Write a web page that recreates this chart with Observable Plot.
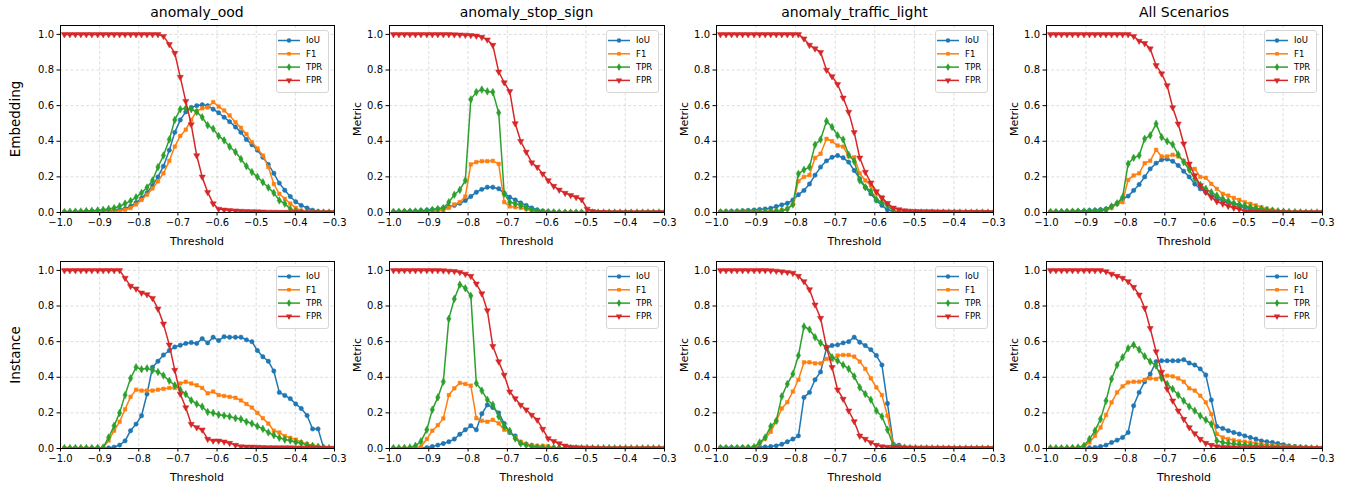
<!DOCTYPE html>
<html><head><meta charset="utf-8">
<script src="https://cdn.jsdelivr.net/npm/d3@7"></script>
<script src="https://cdn.jsdelivr.net/npm/@observablehq/plot@0.6"></script>
<style>
body{margin:0;background:#fff;font-family:"DejaVu Sans",sans-serif;}
#fig{position:relative;width:1351px;height:484px;overflow:hidden;background:#fff}
.t{position:absolute;white-space:nowrap;color:#000;line-height:1;}
.leg{position:absolute;background:rgba(255,255,255,0.85);border:1px solid #d6d6d6;border-radius:3px;box-sizing:border-box}
</style></head><body><div id="fig"></div>
<script>
const thresholds = [-0.990,-0.976,-0.962,-0.948,-0.934,-0.920,-0.905,-0.891,-0.877,-0.863,-0.849,-0.835,-0.821,-0.807,-0.793,-0.779,-0.765,-0.751,-0.737,-0.722,-0.708,-0.694,-0.680,-0.666,-0.652,-0.638,-0.624,-0.610,-0.596,-0.582,-0.568,-0.553,-0.539,-0.525,-0.511,-0.497,-0.483,-0.469,-0.455,-0.441,-0.427,-0.413,-0.399,-0.385,-0.370,-0.356,-0.342,-0.328,-0.314,-0.300];
const xTicks = [-1.0,-0.9,-0.8,-0.7,-0.6,-0.5,-0.4,-0.3];
const yTicks = [0.0,0.2,0.4,0.6,0.8,1.0];
const scenarios = ["anomaly_ood","anomaly_stop_sign","anomaly_traffic_light","All Scenarios"];
const modes = ["Embedding","Instance"];
const metrics = ["IoU","F1","TPR","FPR"];
const colors = ["#1f77b4","#ff7f0e","#2ca02c","#d62728"];

// Embedding row
const ood_emb_iou = [0.003,0.003,0.004,0.005,0.006,0.007,0.008,0.009,0.011,0.013,0.016,0.022,0.035,0.055,0.08,0.11,0.15,0.2,0.26,0.35,0.45,0.52,0.565,0.59,0.6,0.605,0.6,0.58,0.56,0.535,0.51,0.48,0.45,0.41,0.38,0.35,0.31,0.27,0.22,0.165,0.125,0.09,0.06,0.04,0.025,0.013,0.006,0.002,0.001,0];
const ood_emb_f1 = [0.001,0.001,0.001,0.002,0.002,0.003,0.003,0.004,0.005,0.006,0.008,0.015,0.025,0.045,0.07,0.1,0.135,0.175,0.22,0.29,0.37,0.43,0.465,0.52,0.57,0.585,0.59,0.62,0.595,0.573,0.545,0.507,0.476,0.44,0.395,0.36,0.32,0.255,0.16,0.105,0.077,0.05,0.026,0.01,0.003,0,0,0,0,0];
const ood_emb_tpr = [0.003,0.004,0.005,0.006,0.008,0.01,0.012,0.015,0.02,0.025,0.035,0.05,0.065,0.085,0.11,0.14,0.18,0.255,0.32,0.41,0.52,0.58,0.585,0.58,0.565,0.535,0.49,0.47,0.43,0.405,0.37,0.34,0.3,0.26,0.227,0.2,0.17,0.14,0.11,0.068,0.05,0.02,0.008,0.002,0,0,0,0,0,0];
const ood_emb_fpr = [1,1,1,1,1,1,1,1,1,1,1,1,1,1,1,1,1,1,0.99,0.944,0.895,0.76,0.625,0.494,0.32,0.2,0.114,0.05,0.02,0.015,0.012,0.01,0.008,0.007,0.006,0.005,0.004,0.003,0.003,0.002,0.002,0.001,0.001,0.001,0,0,0,0,0,0];

const stop_emb_iou = [0.005,0.005,0.006,0.007,0.008,0.011,0.013,0.016,0.02,0.025,0.032,0.04,0.052,0.067,0.09,0.114,0.13,0.142,0.142,0.133,0.109,0.086,0.071,0.054,0.04,0.026,0.015,0.009,0.005,0.003,0.002,0.001,0.001,0.001,0,0,0,0,0,0,0,0,0,0,0,0,0,0,0,0];
const stop_emb_f1 = [0.001,0.001,0.001,0.002,0.002,0.003,0.004,0.005,0.008,0.012,0.026,0.045,0.058,0.09,0.27,0.283,0.288,0.288,0.29,0.273,0.058,0.034,0.03,0.026,0.019,0.011,0.005,0.002,0,0,0,0,0,0,0,0,0,0,0,0,0,0,0,0,0,0,0,0,0,0];
const stop_emb_tpr = [0.004,0.004,0.005,0.005,0.006,0.008,0.01,0.015,0.02,0.025,0.058,0.1,0.127,0.18,0.635,0.676,0.69,0.68,0.676,0.56,0.105,0.058,0.05,0.04,0.026,0.015,0.007,0.003,0.002,0.001,0,0,0,0,0,0,0,0,0,0,0,0,0,0,0,0,0,0,0,0];
const stop_emb_fpr = [1,1,1,1,1,1,1,1,1,1,1,0.999,0.998,0.997,0.995,0.992,0.985,0.97,0.94,0.79,0.73,0.68,0.5,0.4,0.34,0.28,0.255,0.217,0.18,0.148,0.127,0.109,0.097,0.086,0.073,0.02,0.007,0.001,0.001,0,0,0,0,0,0,0,0,0,0,0];

const tl_emb_iou = [0.005,0.006,0.007,0.008,0.01,0.012,0.014,0.017,0.02,0.024,0.034,0.043,0.052,0.07,0.1,0.124,0.16,0.21,0.255,0.29,0.31,0.32,0.307,0.283,0.236,0.19,0.142,0.105,0.067,0.04,0.015,0.006,0.003,0.002,0.001,0,0,0,0,0,0,0,0,0,0,0,0,0,0,0];
const tl_emb_f1 = [0.002,0.002,0.002,0.003,0.003,0.004,0.004,0.005,0.006,0.008,0.01,0.013,0.02,0.045,0.176,0.2,0.21,0.307,0.33,0.414,0.4,0.376,0.37,0.315,0.31,0.22,0.18,0.152,0.105,0.086,0.049,0.015,0.003,0.001,0,0,0,0,0,0,0,0,0,0,0,0,0,0,0,0];
const tl_emb_tpr = [0.001,0.001,0.001,0.002,0.002,0.002,0.003,0.003,0.004,0.005,0.007,0.01,0.02,0.045,0.217,0.24,0.255,0.38,0.41,0.513,0.48,0.433,0.41,0.324,0.287,0.18,0.142,0.12,0.073,0.058,0.04,0.007,0.001,0,0,0,0,0,0,0,0,0,0,0,0,0,0,0,0,0];
const tl_emb_fpr = [1,1,1,1,1,1,1,1,1,1,1,1,1,1,1,0.976,0.94,0.92,0.9,0.8,0.764,0.72,0.644,0.564,0.45,0.307,0.227,0.167,0.118,0.082,0.052,0.026,0.017,0.011,0.008,0.007,0.006,0.005,0.005,0.004,0.004,0.003,0.003,0.003,0.002,0.002,0.002,0.002,0.001,0.001];

const all_emb_iou = [0.004,0.005,0.005,0.006,0.007,0.008,0.009,0.011,0.013,0.016,0.02,0.034,0.049,0.077,0.092,0.124,0.157,0.2,0.245,0.277,0.296,0.3,0.288,0.264,0.232,0.2,0.16,0.133,0.114,0.095,0.082,0.067,0.058,0.049,0.04,0.03,0.022,0.017,0.013,0.009,0.007,0.005,0.004,0.003,0.002,0.002,0.001,0.001,0,0];
const all_emb_f1 = [0.002,0.002,0.002,0.003,0.003,0.004,0.004,0.005,0.006,0.008,0.012,0.026,0.05,0.058,0.183,0.208,0.22,0.277,0.29,0.352,0.315,0.315,0.324,0.315,0.29,0.255,0.245,0.2,0.195,0.161,0.133,0.105,0.095,0.082,0.071,0.058,0.049,0.04,0.03,0.02,0.015,0.009,0.005,0.003,0.002,0.001,0,0,0,0];
const all_emb_tpr = [0.003,0.003,0.004,0.004,0.005,0.005,0.006,0.007,0.008,0.01,0.015,0.034,0.052,0.086,0.273,0.307,0.32,0.414,0.433,0.498,0.423,0.4,0.382,0.326,0.283,0.24,0.19,0.155,0.133,0.114,0.095,0.077,0.064,0.052,0.045,0.037,0.03,0.024,0.019,0.015,0.011,0.007,0.005,0.003,0.002,0.001,0,0,0,0];
const all_emb_fpr = [1,1,1,1,1,1,1,1,1,1,1,1,1,1,1,0.99,0.963,0.95,0.92,0.826,0.78,0.713,0.59,0.498,0.386,0.273,0.208,0.152,0.114,0.086,0.062,0.049,0.036,0.026,0.019,0.007,0.004,0.002,0.001,0,0,0,0,0,0,0,0,0,0,0];

// Instance row
const ood_inst_iou = [0.001,0.001,0.001,0.001,0.001,0.001,0.001,0.001,0.003,0.008,0.019,0.043,0.1,0.137,0.184,0.306,0.456,0.49,0.525,0.55,0.57,0.58,0.59,0.595,0.59,0.617,0.593,0.625,0.606,0.628,0.625,0.625,0.625,0.61,0.6,0.55,0.515,0.49,0.435,0.315,0.298,0.28,0.25,0.225,0.185,0.11,0.11,0.005,0,0];
const ood_inst_f1 = [0.001,0.001,0.001,0.001,0.001,0.001,0.002,0.004,0.045,0.1,0.15,0.22,0.29,0.33,0.325,0.325,0.325,0.33,0.335,0.34,0.34,0.365,0.375,0.365,0.355,0.34,0.31,0.32,0.3,0.295,0.29,0.285,0.27,0.25,0.23,0.2,0.17,0.14,0.1,0.09,0.07,0.06,0.05,0.035,0.025,0.015,0.01,0.005,0.002,0];
const ood_inst_tpr = [0.003,0.003,0.003,0.003,0.003,0.003,0.004,0.006,0.062,0.128,0.2,0.3,0.394,0.456,0.445,0.45,0.44,0.43,0.41,0.38,0.355,0.33,0.305,0.27,0.25,0.235,0.205,0.2,0.19,0.185,0.18,0.17,0.165,0.15,0.14,0.125,0.11,0.09,0.075,0.06,0.05,0.045,0.035,0.03,0.02,0.015,0.01,0.005,0.002,0];
const ood_inst_fpr = [1,1,1,1,1,1,1,1,1,1,1,0.957,0.912,0.897,0.874,0.865,0.844,0.784,0.7,0.582,0.44,0.306,0.23,0.137,0.118,0.105,0.053,0.043,0.043,0.038,0.03,0.019,0.011,0.009,0.009,0.008,0.007,0.006,0.006,0.005,0.005,0.005,0.004,0.004,0.004,0.003,0.003,0.003,0.002,0.002];

const stop_inst_iou = [0,0,0,0,0,0.001,0.005,0.011,0.019,0.028,0.038,0.053,0.08,0.105,0.128,0.105,0.195,0.245,0.23,0.2,0.14,0.09,0.071,0.03,0.024,0.015,0.01,0.006,0.003,0.001,0,0,0,0,0,0,0,0,0,0,0,0,0,0,0,0,0,0,0,0];
const stop_inst_f1 = [0,0,0.001,0.002,0.004,0.01,0.053,0.1,0.131,0.169,0.3,0.338,0.368,0.362,0.353,0.17,0.156,0.15,0.161,0.141,0.105,0.094,0.062,0.038,0.024,0.019,0.015,0.015,0.013,0.005,0.002,0,0,0,0,0,0,0,0,0,0,0,0,0,0,0,0,0,0,0];
const stop_inst_tpr = [0.003,0.003,0.004,0.006,0.015,0.04,0.105,0.218,0.287,0.375,0.728,0.84,0.92,0.9,0.857,0.366,0.325,0.274,0.246,0.18,0.124,0.099,0.056,0.028,0.019,0.011,0.007,0.005,0.004,0.003,0.003,0.003,0.002,0.002,0.002,0.002,0.002,0.002,0.002,0.002,0.001,0.001,0.001,0.001,0.001,0.001,0.001,0.001,0.001,0.001];
const stop_inst_fpr = [1,1,1,1,1,1,1,1,1,0.999,0.997,0.995,0.99,0.98,0.968,0.925,0.87,0.775,0.574,0.488,0.413,0.319,0.281,0.244,0.218,0.188,0.161,0.109,0.056,0.041,0.028,0.015,0.008,0.006,0.004,0.003,0.002,0.001,0,0,0,0,0,0,0,0,0,0,0,0];

const tl_inst_iou = [0.005,0.005,0.005,0.005,0.006,0.006,0.007,0.008,0.009,0.011,0.015,0.024,0.038,0.053,0.071,0.287,0.315,0.386,0.43,0.563,0.578,0.582,0.593,0.6,0.625,0.597,0.578,0.555,0.522,0.469,0.253,0.024,0.019,0.005,0.002,0,0,0,0,0,0,0,0,0,0,0,0,0,0,0];
const tl_inst_f1 = [0,0,0,0,0.001,0.002,0.005,0.024,0.056,0.094,0.152,0.225,0.26,0.32,0.386,0.484,0.484,0.478,0.478,0.503,0.499,0.522,0.525,0.525,0.516,0.488,0.447,0.394,0.343,0.3,0.184,0.019,0.011,0.005,0.002,0,0,0,0,0,0,0,0,0,0,0,0,0,0,0];
const tl_inst_tpr = [0.002,0.002,0.002,0.002,0.003,0.004,0.008,0.034,0.062,0.124,0.156,0.293,0.362,0.418,0.522,0.685,0.668,0.625,0.593,0.568,0.512,0.493,0.469,0.447,0.405,0.343,0.306,0.274,0.212,0.18,0.105,0.015,0.008,0.005,0.003,0.002,0.001,0.001,0.001,0.001,0,0,0,0,0,0,0,0,0,0];
const tl_inst_fpr = [1,1,1,1,1,1,1,1,1,0.999,0.997,0.993,0.99,0.985,0.968,0.938,0.893,0.807,0.732,0.568,0.456,0.33,0.278,0.212,0.152,0.071,0.053,0.034,0.019,0.011,0.008,0.006,0.005,0.004,0.004,0.003,0.003,0.003,0.002,0.002,0.002,0.002,0.001,0.001,0.001,0.001,0.001,0.001,0.001,0.001];

const all_inst_iou = [0.001,0.001,0.001,0.001,0.001,0.002,0.003,0.004,0.006,0.011,0.019,0.034,0.047,0.062,0.09,0.24,0.315,0.375,0.418,0.488,0.493,0.493,0.493,0.493,0.499,0.48,0.469,0.447,0.413,0.272,0.124,0.113,0.1,0.09,0.081,0.071,0.062,0.053,0.043,0.038,0.034,0.028,0.022,0.015,0.011,0.008,0.004,0.002,0.001,0];
const all_inst_f1 = [0.001,0.001,0.001,0.002,0.003,0.005,0.012,0.034,0.071,0.118,0.188,0.259,0.315,0.349,0.371,0.375,0.375,0.386,0.394,0.39,0.409,0.409,0.405,0.394,0.375,0.338,0.325,0.296,0.259,0.193,0.081,0.062,0.053,0.047,0.041,0.038,0.034,0.03,0.024,0.021,0.019,0.015,0.013,0.011,0.009,0.008,0.006,0.004,0.002,0];
const all_inst_tpr = [0.002,0.002,0.002,0.003,0.004,0.006,0.015,0.053,0.1,0.165,0.268,0.39,0.469,0.512,0.563,0.582,0.555,0.518,0.488,0.465,0.394,0.362,0.334,0.3,0.268,0.236,0.212,0.184,0.161,0.137,0.043,0.034,0.03,0.026,0.022,0.019,0.017,0.015,0.013,0.011,0.009,0.008,0.006,0.005,0.004,0.003,0.002,0.001,0,0];
const all_inst_fpr = [1,1,1,1,1,1,1,1,1,1,0.994,0.98,0.968,0.957,0.938,0.906,0.863,0.788,0.675,0.544,0.43,0.334,0.268,0.212,0.165,0.118,0.084,0.053,0.03,0.019,0.011,0.007,0.005,0.004,0.003,0.003,0.002,0.002,0.002,0.001,0.001,0.001,0.001,0.001,0.001,0.001,0.001,0.001,0.001,0.001];

const seriesByPanel = [
  [[ood_emb_iou, ood_emb_f1, ood_emb_tpr, ood_emb_fpr],
   [stop_emb_iou, stop_emb_f1, stop_emb_tpr, stop_emb_fpr],
   [tl_emb_iou, tl_emb_f1, tl_emb_tpr, tl_emb_fpr],
   [all_emb_iou, all_emb_f1, all_emb_tpr, all_emb_fpr]],
  [[ood_inst_iou, ood_inst_f1, ood_inst_tpr, ood_inst_fpr],
   [stop_inst_iou, stop_inst_f1, stop_inst_tpr, stop_inst_fpr],
   [tl_inst_iou, tl_inst_f1, tl_inst_tpr, tl_inst_fpr],
   [all_inst_iou, all_inst_f1, all_inst_tpr, all_inst_fpr]]
];

// validate
seriesByPanel.forEach((row, r) => row.forEach((panel, c) => panel.forEach((s, m) => {
  if (s.length !== thresholds.length) throw new Error(`length ${s.length} for ${modes[r]} ${scenarios[c]} ${metrics[m]}`);
})));

// build long table
const rows = [];
seriesByPanel.forEach((row, r) => row.forEach((panel, c) => panel.forEach((s, m) => {
  s.forEach((v, i) => rows.push({mode: modes[r], scenario: scenarios[c], metric: metrics[m], x: thresholds[i], y: v}));
})));

// layout
const colLeft = [60, 389, 716, 1046];
const colWidth = [274, 275, 277, 276];
const rowTop = [25, 261];
const rowH = 187;
const mL = 40, mR = 8, mT = 8, mB = 30;

const triDown = {
  draw(ctx, size) {
    const a = Math.sqrt(size * 4 / Math.sqrt(3));
    const h = a * Math.sqrt(3) / 2;
    ctx.moveTo(0, 2 * h / 3);
    ctx.lineTo(a / 2, -h / 3);
    ctx.lineTo(-a / 2, -h / 3);
    ctx.closePath();
  }
};
const symbols = ["circle", "square", "diamond", triDown];
const radii = [2.2, 2.0, 2.3, 2.3];
const fmt = d3.format(".1f");
const fig = document.getElementById("fig");

function addText(str, x, y, size, rotate) {
  const d = document.createElement("div");
  d.className = "t";
  d.textContent = str;
  d.style.left = x + "px";
  d.style.top = y + "px";
  d.style.fontSize = size + "px";
  d.style.transform = "translate(-50%,-50%)" + (rotate ? " rotate(-90deg)" : "");
  fig.appendChild(d);
}

for (let r = 0; r < 2; r++) {
  for (let c = 0; c < 4; c++) {
    const data = rows.filter(d => d.mode === modes[r] && d.scenario === scenarios[c]);
    const marks = [
      Plot.gridX(xTicks, {stroke: "#b0b0b0", strokeOpacity: 0.55, strokeWidth: 0.8, strokeDasharray: "3,2.2"}),
      Plot.gridY(yTicks, {stroke: "#b0b0b0", strokeOpacity: 0.55, strokeWidth: 0.8, strokeDasharray: "3,2.2"}),
    ];
    metrics.forEach((m, i) => {
      const sd = data.filter(d => d.metric === m);
      marks.push(Plot.line(sd, {x: "x", y: "y", stroke: colors[i], strokeWidth: 1.5, clip: true}));
      marks.push(Plot.dot(sd, {x: "x", y: "y", fill: colors[i], stroke: colors[i], strokeWidth: 0.5, r: radii[i], symbol: symbols[i], clip: true}));
    });
    marks.push(
      Plot.axisX(xTicks, {tickFormat: fmt, tickSize: 3.5, tickPadding: 3, label: null, fontSize: 10}),
      Plot.axisY(yTicks, {tickFormat: fmt, tickSize: 3.5, tickPadding: 3, label: null, fontSize: 10}),
      Plot.frame({stroke: "#000", strokeWidth: 1})
    );
    const svg = Plot.plot({
      width: colWidth[c] + mL + mR,
      height: rowH + mT + mB,
      marginLeft: mL, marginRight: mR, marginTop: mT, marginBottom: mB,
      x: {domain: [-1, -0.3]},
      y: {domain: [0, 1.05]},
      style: {fontFamily: "DejaVu Sans", fontSize: "10px", color: "#000", background: "transparent", overflow: "visible"},
      marks
    });
    svg.style.position = "absolute";
    svg.style.left = (colLeft[c] - mL) + "px";
    svg.style.top = (rowTop[r] - mT) + "px";
    fig.appendChild(svg);

    // x label
    addText("Threshold", colLeft[c] + colWidth[c] / 2, rowTop[r] + rowH + 29, 11);
    // y label
    if (c > 0) addText("Metric", colLeft[c] - 32, rowTop[r] + rowH / 2, 11, true);

    // legend
    const lw = 53, lh = 63;
    const leg = document.createElement("div");
    leg.className = "leg";
    leg.style.left = (colLeft[c] + colWidth[c] - 5 - lw) + "px";
    leg.style.top = (rowTop[r] + 5) + "px";
    leg.style.width = lw + "px";
    leg.style.height = lh + "px";
    const ns = "http://www.w3.org/2000/svg";
    const ls = document.createElementNS(ns, "svg");
    ls.setAttribute("width", lw - 2);
    ls.setAttribute("height", lh - 2);
    ls.style.position = "absolute";
    ls.style.left = "0px"; ls.style.top = "0px";
    metrics.forEach((m, i) => {
      const cy = 9.5 + i * 13.3;
      const line = document.createElementNS(ns, "line");
      line.setAttribute("x1", 1); line.setAttribute("x2", 23);
      line.setAttribute("y1", cy); line.setAttribute("y2", cy);
      line.setAttribute("stroke", colors[i]); line.setAttribute("stroke-width", 1.5);
      ls.appendChild(line);
      const p = document.createElementNS(ns, "path");
      const sym = typeof symbols[i] === "string" ? Plot.symbol ? null : null : null;
      let dpath;
      const size = Math.PI * radii[i] * radii[i];
      if (i === 0) dpath = d3.symbol(d3.symbolCircle, size)();
      else if (i === 1) dpath = d3.symbol(d3.symbolSquare, size)();
      else if (i === 2) dpath = d3.symbol(d3.symbolDiamond, size)();
      else dpath = d3.symbol(triDown, size)();
      p.setAttribute("d", dpath);
      p.setAttribute("transform", `translate(12,${cy})`);
      p.setAttribute("fill", colors[i]);
      ls.appendChild(p);
      const tx = document.createElementNS(ns, "text");
      tx.setAttribute("x", 29); tx.setAttribute("y", cy);
      tx.setAttribute("dy", "0.35em");
      tx.setAttribute("font-size", "8.5");
      tx.setAttribute("font-family", "DejaVu Sans");
      tx.setAttribute("fill", "#000");
      tx.textContent = m;
      ls.appendChild(tx);
    });
    leg.appendChild(ls);
    fig.appendChild(leg);
  }
}
// titles
for (let c = 0; c < 4; c++) addText(scenarios[c], colLeft[c] + colWidth[c] / 2, 12, 14);
// row labels
addText(modes[0], 16, rowTop[0] + rowH / 2, 13.5, true);
addText(modes[1], 16, rowTop[1] + rowH / 2, 13.5, true);
</script></body></html>
